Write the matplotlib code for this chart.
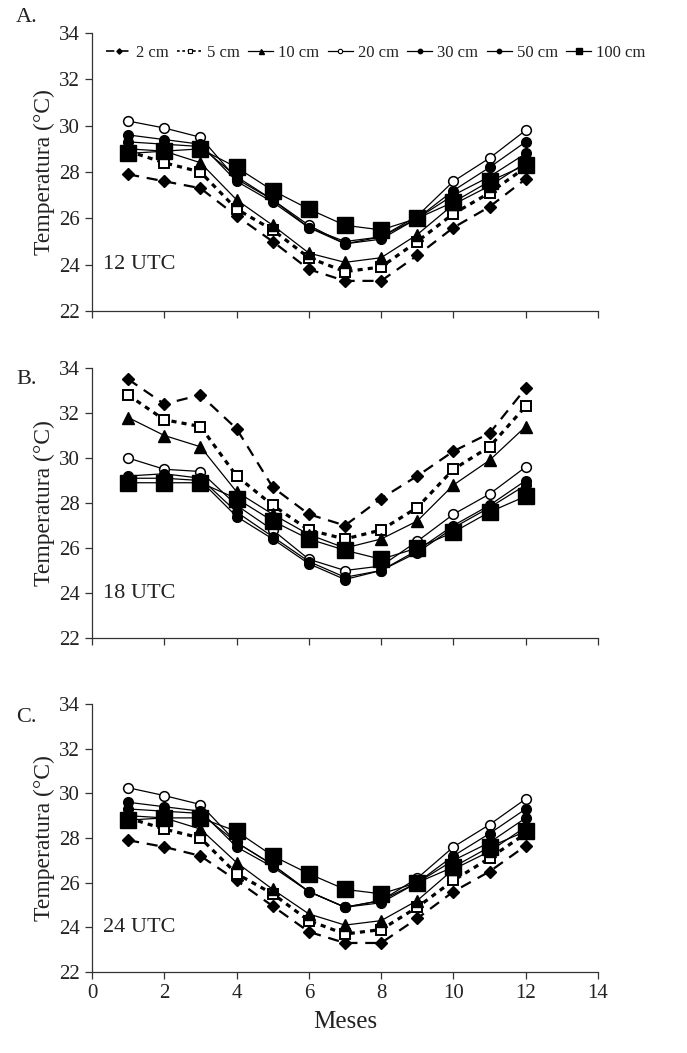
import matplotlib
matplotlib.use("Agg")
import matplotlib.pyplot as plt
from matplotlib.lines import Line2D

plt.rcParams['font.family'] = ['Liberation Serif', 'DejaVu Serif']

months = list(range(1, 13))
depths = ['2 cm', '5 cm', '10 cm', '20 cm', '30 cm', '50 cm', '100 cm']

# Panel A: 12 UTC
a_2 = [27.9, 27.6, 27.3, 26.1, 25.0, 23.8, 23.3, 23.3, 24.4, 25.6, 26.5, 27.7]
a_5 = [28.9, 28.4, 28.0, 26.4, 25.5, 24.3, 23.7, 23.9, 25.0, 26.2, 27.1, 28.2]
a_10 = [29.0, 28.9, 28.4, 26.8, 25.7, 24.5, 24.1, 24.3, 25.3, 26.6, 27.4, 28.4]
a_20 = [30.2, 29.9, 29.5, 27.7, 26.8, 25.7, 24.9, 25.2, 26.1, 27.6, 28.6, 29.8]
a_30 = [29.6, 29.4, 29.2, 27.6, 26.7, 25.6, 24.9, 25.1, 26.0, 27.2, 28.2, 29.3]
a_50 = [29.3, 29.2, 29.1, 27.8, 26.8, 25.6, 25.0, 25.2, 26.0, 27.0, 27.8, 28.8]
a_100 = [28.8, 28.9, 29.0, 28.2, 27.2, 26.4, 25.7, 25.5, 26.0, 26.7, 27.6, 28.3]

# Panel B: 18 UTC
b_2 = [33.5, 32.4, 32.8, 31.3, 28.7, 27.5, 27.0, 28.2, 29.2, 30.3, 31.1, 33.1]
b_5 = [32.8, 31.7, 31.4, 29.2, 27.9, 26.8, 26.4, 26.8, 27.8, 29.5, 30.5, 32.3]
b_10 = [31.8, 31.0, 30.5, 28.5, 27.5, 26.6, 26.0, 26.4, 27.2, 28.8, 29.9, 31.4]
b_20 = [30.0, 29.5, 29.4, 27.9, 26.8, 25.5, 25.0, 25.2, 26.3, 27.5, 28.4, 29.6]
b_30 = [29.2, 29.3, 29.1, 27.6, 26.5, 25.4, 24.7, 25.0, 25.9, 27.0, 27.9, 29.0]
b_50 = [29.1, 29.1, 29.0, 27.4, 26.4, 25.3, 24.6, 25.0, 25.8, 26.9, 27.8, 28.8]
b_100 = [28.9, 28.9, 28.9, 28.2, 27.2, 26.4, 25.9, 25.5, 26.0, 26.7, 27.6, 28.3]

# Panel C: 24 UTC
c_2 = [27.9, 27.6, 27.2, 26.1, 24.95, 23.8, 23.3, 23.3, 24.4, 25.6, 26.5, 27.65]
c_5 = [28.9, 28.4, 28.0, 26.4, 25.5, 24.3, 23.7, 23.9, 24.9, 26.1, 27.1, 28.2]
c_10 = [29.0, 28.9, 28.4, 26.9, 25.7, 24.6, 24.1, 24.3, 25.2, 26.6, 27.4, 28.5]
c_20 = [30.25, 29.9, 29.5, 27.8, 26.8, 25.6, 24.9, 25.2, 26.2, 27.6, 28.6, 29.75]
c_30 = [29.6, 29.4, 29.2, 27.6, 26.7, 25.6, 24.9, 25.1, 26.0, 27.2, 28.2, 29.3]
c_50 = [29.3, 29.2, 29.1, 27.8, 26.8, 25.6, 24.9, 25.2, 26.0, 27.0, 27.8, 28.9]
c_100 = [28.8, 28.9, 28.9, 28.3, 27.2, 26.4, 25.7, 25.5, 26.0, 26.7, 27.6, 28.3]

panels = [
    ('A.', '12 UTC', [a_2, a_5, a_10, a_20, a_30, a_50, a_100]),
    ('B.', '18 UTC', [b_2, b_5, b_10, b_20, b_30, b_50, b_100]),
    ('C.', '24 UTC', [c_2, c_5, c_10, c_20, c_30, c_50, c_100]),
]

styles = [
    dict(ls=(0, (5, 3.5)), lw=1.6, marker='D', ms=6, mfc='black', mec='black'),
    dict(ls=(0, (1.6, 1.6)), lw=2.3, marker='s', ms=7, mfc='white', mec='black', mew=1.4),
    dict(ls='-', lw=0.9, marker='^', ms=8, mfc='black', mec='black'),
    dict(ls='-', lw=0.9, marker='o', ms=7, mfc='white', mec='black', mew=1.1),
    dict(ls='-', lw=0.9, marker='o', ms=7, mfc='black', mec='black'),
    dict(ls='-', lw=0.9, marker='o', ms=7, mfc='black', mec='black'),
    dict(ls='-', lw=0.9, marker='s', ms=11, mfc='black', mec='black'),
]

W, H = 687, 1053
fig = plt.figure(figsize=(W / 100, H / 100), dpi=100)
left = 92 / W
width = (598 - 92) / W
bounds = [(33, 311), (368, 638), (704, 972)]
label_y = [18, 380, 718]
text_col = '#222222'

for i, ((plab, utc, series), (top, bot)) in enumerate(zip(panels, bounds)):
    ax = fig.add_axes([left, 1 - bot / H, width, (bot - top) / H])
    for name, vals, st in zip(depths, series, styles):
        ax.plot(months, vals, color='black', label=name, **st)
    ax.set_xlim(0, 14)
    ax.set_ylim(22, 34)
    ax.set_xticks(range(0, 15, 2))
    ax.set_yticks(range(22, 35, 2))
    for s in ['top', 'right']:
        ax.spines[s].set_visible(False)
    for s in ['left', 'bottom']:
        ax.spines[s].set_color('#333333')
        ax.spines[s].set_linewidth(0.9)
    ax.tick_params(direction='out', length=5, width=0.9, color='#333333',
                   labelsize=15, labelcolor=text_col)
    if i < 2:
        ax.tick_params(axis='x', labelbottom=False)
    else:
        ax.set_xlabel('Meses', fontsize=18, color=text_col, labelpad=6)
    ax.set_ylabel('Temperatura (°C)', fontsize=17, color=text_col, labelpad=3)
    ax.text(0.3, 24.0, utc, fontsize=16, color=text_col, va='center', ha='left')
    fig.text(16 / W, 1 - label_y[i] / H, plab, fontsize=16, color=text_col,
             va='center', ha='left')
    if i == 0:
        leg_handles = []
        for st, name in zip(styles, depths):
            st2 = dict(st)
            st2['ms'] = st['ms'] * 0.45
            st2['lw'] = min(st['lw'], 1.2)
            if 'mew' in st2:
                st2['mew'] = 0.8
            leg_handles.append(Line2D([], [], color='black', **st2))
        ax.legend(leg_handles, depths, loc='upper left', bbox_to_anchor=(0.005, 1.0),
                  ncol=7, frameon=False, fontsize=12, handlelength=1.5,
                  handletextpad=0.3, columnspacing=0.5, borderaxespad=0.3,
                  labelcolor=text_col)

fig.savefig('out.png', dpi=100)
